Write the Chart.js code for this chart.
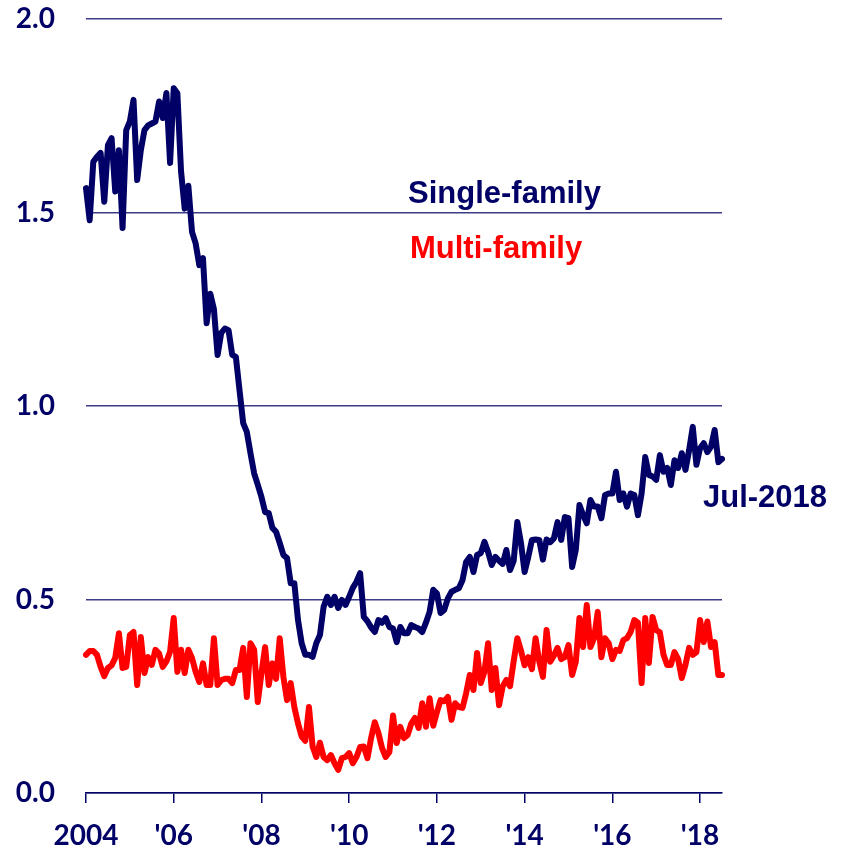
<!DOCTYPE html>
<html>
<head>
<meta charset="utf-8">
<script src="https://cdn.jsdelivr.net/npm/chart.js@4.4.1/dist/chart.umd.min.js"></script>
<style>
  body { margin: 0; background: #ffffff; }
  #wrap { width: 848px; height: 849px; }
</style>
</head>
<body>
<div id="wrap"><canvas id="myChart" width="848" height="849"></canvas></div>
<script>
// years and months for the category axis (Jan 2004 - Jul 2018)
const years = [2004, 2005, 2006, 2007, 2008, 2009, 2010, 2011, 2012, 2013, 2014, 2015, 2016, 2017, 2018];
const months = ['Jan', 'Feb', 'Mar', 'Apr', 'May', 'Jun', 'Jul', 'Aug', 'Sep', 'Oct', 'Nov', 'Dec'];
const tickLabels = ['2004', "'06", "'08", "'10", "'12", "'14", "'16", "'18"];

// single-family, millions (one row per year)
const singleFamily = [
  1.563, 1.48, 1.631, 1.644, 1.654, 1.528, 1.674, 1.692, 1.554, 1.661, 1.46, 1.713,
  1.735, 1.791, 1.584, 1.661, 1.713, 1.725, 1.73, 1.735, 1.787, 1.744, 1.809, 1.628,
  1.821, 1.808, 1.607, 1.51, 1.569, 1.45, 1.42, 1.364, 1.382, 1.214, 1.29, 1.25,
  1.132, 1.189, 1.2, 1.196, 1.132, 1.127, 1.041, 0.956, 0.933, 0.878, 0.826, 0.796,
  0.765, 0.726, 0.723, 0.685, 0.675, 0.646, 0.615, 0.607, 0.542, 0.542, 0.447, 0.387,
  0.357, 0.357, 0.352, 0.387, 0.408, 0.481, 0.507, 0.486, 0.507, 0.478, 0.499, 0.486,
  0.507, 0.53, 0.546, 0.568, 0.455, 0.444, 0.428, 0.416, 0.447, 0.44, 0.452, 0.429,
  0.425, 0.39, 0.429, 0.413, 0.413, 0.434, 0.429, 0.425, 0.416, 0.44, 0.468, 0.525,
  0.516, 0.465, 0.473, 0.503, 0.52, 0.525, 0.529, 0.55, 0.597, 0.61, 0.571, 0.615,
  0.62, 0.649, 0.623, 0.589, 0.61, 0.6, 0.592, 0.628, 0.576, 0.6, 0.70, 0.646,
  0.571, 0.61, 0.654, 0.655, 0.654, 0.603, 0.655, 0.648, 0.658, 0.70, 0.654, 0.713,
  0.71, 0.584, 0.628, 0.744, 0.718, 0.697, 0.757, 0.74, 0.74, 0.71, 0.77, 0.774,
  0.774, 0.83, 0.757, 0.774, 0.74, 0.774, 0.77, 0.718, 0.774, 0.868, 0.822, 0.818,
  0.809, 0.873, 0.83, 0.84, 0.796, 0.86, 0.84, 0.878, 0.835, 0.886, 0.946, 0.848,
  0.891, 0.904, 0.881, 0.895, 0.938, 0.855, 0.863
];

// multi-family, millions
const multiFamily = [
  0.357, 0.367, 0.367, 0.357, 0.326, 0.302, 0.323, 0.33, 0.349, 0.413, 0.323, 0.326,
  0.408, 0.416, 0.279, 0.403, 0.31, 0.351, 0.331, 0.37, 0.36, 0.326, 0.34, 0.365,
  0.452, 0.313, 0.37, 0.31, 0.37, 0.349, 0.313, 0.287, 0.335, 0.279, 0.279, 0.4,
  0.279, 0.292, 0.295, 0.295, 0.284, 0.318, 0.318, 0.375, 0.248, 0.387, 0.37, 0.235,
  0.31, 0.377, 0.279, 0.335, 0.295, 0.4, 0.3, 0.24, 0.284, 0.222, 0.18, 0.146,
  0.135, 0.222, 0.12, 0.093, 0.13, 0.093, 0.085, 0.098, 0.077, 0.06, 0.09, 0.093,
  0.103, 0.077, 0.093, 0.119, 0.12, 0.09, 0.142, 0.183, 0.155, 0.116, 0.093, 0.106,
  0.2, 0.129, 0.171, 0.142, 0.15, 0.18, 0.194, 0.168, 0.232, 0.171, 0.245, 0.174,
  0.209, 0.24, 0.237, 0.248, 0.189, 0.232, 0.222, 0.22, 0.258, 0.305, 0.266, 0.362,
  0.284, 0.313, 0.387, 0.266, 0.323, 0.227, 0.276, 0.292, 0.276, 0.34, 0.40, 0.368,
  0.33, 0.351, 0.32, 0.4, 0.34, 0.3, 0.421, 0.339, 0.355, 0.375, 0.346, 0.351,
  0.382, 0.305, 0.339, 0.452, 0.377, 0.486, 0.377, 0.4, 0.468, 0.351, 0.4, 0.387,
  0.346, 0.37, 0.367, 0.395, 0.4, 0.416, 0.447, 0.44, 0.284, 0.452, 0.336, 0.455,
  0.421, 0.415, 0.357, 0.331, 0.331, 0.364, 0.346, 0.297, 0.331, 0.375, 0.357, 0.364,
  0.447, 0.39, 0.443, 0.377, 0.39, 0.305, 0.305
];

const navy = '#000066';
const red = '#ff0000';
const gridColor = '#3c3c88';

// build month labels to match the data length
let labels = [];
years.forEach(y => {
  months.forEach(m => {
    if (labels.length < singleFamily.length) labels.push(m + '-' + String(y).slice(2));
  });
});

// text labels drawn on top of the chart
const textLabels = {
  id: 'textLabels',
  afterDraw(chart) {
    const ctx = chart.ctx;
    ctx.save();
    ctx.font = 'bold 31px "Liberation Sans", Arial, sans-serif';
    ctx.textAlign = 'left';
    ctx.textBaseline = 'alphabetic';
    ctx.fillStyle = navy;
    ctx.fillText('Single-family', 408, 203);
    ctx.fillText('Jul-2018', 703, 507);
    ctx.fillStyle = red;
    ctx.fillText('Multi-family', 410, 258);
    ctx.restore();
  }
};

const tickFont = { family: 'Lato, "Open Sans", sans-serif', size: 28, weight: 'bold' };

let ctx = document.getElementById('myChart').getContext('2d');
let myChart = new Chart(ctx, {
  type: 'line',
  data: {
    labels: labels,
    datasets: [{
      label: 'Single-family',
      data: singleFamily,
      borderColor: navy,
      borderWidth: 6,
      pointRadius: 0,
      tension: 0,
      borderJoinStyle: 'round',
      borderCapStyle: 'round'
    }, {
      label: 'Multi-family',
      data: multiFamily,
      borderColor: red,
      borderWidth: 6,
      pointRadius: 0,
      tension: 0,
      borderJoinStyle: 'round',
      borderCapStyle: 'round'
    }]
  },
  options: {
    responsive: false,
    animation: false,
    layout: { padding: { left: 0, right: 126, top: 19, bottom: 0 } },
    plugins: {
      legend: { display: false },
      tooltip: { enabled: false }
    },
    scales: {
      x: {
        offset: false,
        grid: { drawOnChartArea: false, drawTicks: true, tickLength: 10, color: navy, lineWidth: 1.5 },
        border: { display: true, color: navy, width: 1.5 },
        ticks: {
          autoSkip: false,
          maxRotation: 0,
          padding: 16,
          color: navy,
          font: tickFont,
          callback: function(value, index) {
            return index % 24 === 0 ? tickLabels[index / 24] : null;
          }
        },
        afterFit: function(scale) { scale.height = 56; }
      },
      y: {
        min: 0,
        max: 2,
        // invisible tick marks push the labels left without padding the top
        grid: { drawTicks: true, tickLength: 31, tickColor: 'rgba(0,0,0,0)', color: gridColor, lineWidth: 1.5 },
        border: { display: false },
        ticks: {
          stepSize: 0.5,
          padding: 0,
          color: navy,
          font: tickFont,
          callback: function(value) { return value.toFixed(1); }
        },
        afterFit: function(scale) { scale.width = 86; }
      }
    }
  },
  plugins: [textLabels]
});
</script>
</body>
</html>
